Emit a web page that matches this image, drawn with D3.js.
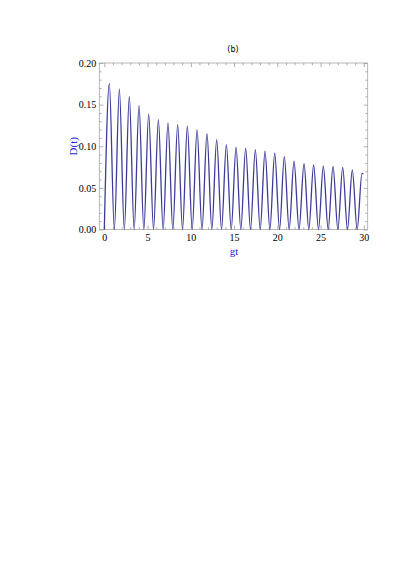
<!DOCTYPE html>
<html>
<head>
<meta charset="utf-8">
<script src="https://cdn.jsdelivr.net/npm/d3@7"></script>
<style>
  html, body { margin: 0; padding: 0; background: #fff; }
  svg { display: block; }
  .tick line { stroke: #999; stroke-width: 0.8; }
</style>
</head>
<body>
<div id="chart"></div>
<script>
// Zeros of D(t) (gt values where the curve touches 0)
const zeroT = [0, 1.16, 2.31, 3.45, 4.57, 5.69, 6.80, 7.92, 9.04, 10.16, 11.29, 12.43,
  13.55, 14.67, 15.78, 16.90, 18.02, 19.14, 20.26, 21.37, 22.51, 23.64, 24.76,
  25.88, 27.00, 28.11, 29.23];
// Maxima positions and heights
const peakT = [0.58, 1.74, 2.89, 4.01, 5.13, 6.25, 7.36, 8.48, 9.60, 10.72, 11.87,
  12.99, 14.11, 15.23, 16.34, 17.46, 18.58, 19.70, 20.81, 21.93, 23.09, 24.20,
  25.32, 26.44, 27.56, 28.67, 29.79];
const peakD = [0.1755, 0.1687, 0.160, 0.149, 0.139, 0.132, 0.128, 0.126, 0.124,
  0.120, 0.115, 0.108, 0.102, 0.099, 0.0976, 0.096, 0.094, 0.0916, 0.0875,
  0.082, 0.079, 0.0775, 0.076, 0.0759, 0.0747, 0.0715, 0.0675];
const endT = 29.95, endD = 0.0665;

const xMajor = [0, 5, 10, 15, 20, 25, 30];
const xMinor = d3.range(0, 31, 1).filter(v => v % 5 !== 0);
const yMajor = [0, 0.05, 0.10, 0.15, 0.20];
const yMinor = d3.range(0, 0.2001, 0.01).filter((v, i) => i % 5 !== 0);

const W = 409, H = 577;
const frame = { left: 99.3, right: 367.7, top: 63, bottom: 229.5 };
const serif = "'Liberation Serif', 'DejaVu Serif', serif";

const svg = d3.select("#chart").append("svg")
    .attr("width", W)
    .attr("height", H);

const x = d3.scaleLinear().domain([-0.58, 30.45]).range([frame.left, frame.right]);
const y = d3.scaleLinear().domain([0, 0.2]).range([frame.bottom, frame.top]);

// build the point list: zero, peak, zero, peak ...
let pts = [];
zeroT.forEach((t, i) => {
  pts.push([t, 0]);
  pts.push([peakT[i], peakD[i]]);
});
pts.push([endT, endD]);

// frame ticks (inward), major + minor on all four sides
const addAxis = (axisFn, scale, vals, size, tr, fmt) => {
  const g = svg.append("g")
      .attr("transform", tr)
      .call(axisFn(scale).tickValues(vals).tickSize(size).tickPadding(3)
          .tickFormat(fmt));
  g.attr("font-family", serif).attr("font-size", 10);
  g.select(".domain").remove();
  g.selectAll("text").attr("fill", "#000");
  return g;
};

const bx = "translate(0," + frame.bottom + ")",
    tx = "translate(0," + frame.top + ")",
    ly = "translate(" + frame.left + ",0)",
    ry = "translate(" + frame.right + ",0)";

addAxis(d3.axisBottom, x, xMajor, -4, bx, d => d3.format("d")(d))
    .selectAll("text").attr("y", 4);
addAxis(d3.axisBottom, x, xMinor, -2.3, bx, () => "");
addAxis(d3.axisTop, x, xMajor, -4, tx, () => "");
addAxis(d3.axisTop, x, xMinor, -2.3, tx, () => "");
addAxis(d3.axisLeft, y, yMajor, -4, ly, d => d3.format(".2f")(d))
    .selectAll("text").attr("x", -3);
addAxis(d3.axisLeft, y, yMinor, -2.3, ly, () => "");
addAxis(d3.axisRight, y, yMajor, -4, ry, () => "");
addAxis(d3.axisRight, y, yMinor, -2.3, ry, () => "");

svg.append("rect")
    .attr("x", frame.left)
    .attr("y", frame.top)
    .attr("width", frame.right - frame.left)
    .attr("height", frame.bottom - frame.top)
    .attr("fill", "none")
    .attr("stroke", "#a6a6a6")
    .attr("stroke-width", 0.8);

// the curve
svg.append("path")
    .datum(pts)
    .attr("fill", "none")
    .attr("stroke", "#3d3d99")
    .attr("stroke-width", 1.3)
    .attr("d", d3.line()
        .x(d => x(d[0]))
        .y(d => y(d[1]))
        .curve(d3.curveMonotoneX));

// labels
svg.append("text")
    .attr("x", 233)
    .attr("y", 52)
    .attr("text-anchor", "middle")
    .attr("font-family", "'DejaVu Sans', sans-serif")
    .attr("font-size", 8)
    .attr("fill", "#000")
    .text("(b)");

svg.append("text")
    .attr("x", (x(0) + x(30)) / 2)
    .attr("y", 255)
    .attr("text-anchor", "middle")
    .attr("font-family", serif)
    .attr("font-size", 11)
    .attr("fill", "#2525e0")
    .text("gt");

svg.append("text")
    .attr("transform", "translate(77," + ((frame.top + frame.bottom) / 2) + ") rotate(-90)")
    .attr("text-anchor", "middle")
    .attr("font-family", serif)
    .attr("font-size", 11)
    .attr("fill", "#2525e0")
    .text("D(t)");
</script>
</body>
</html>
